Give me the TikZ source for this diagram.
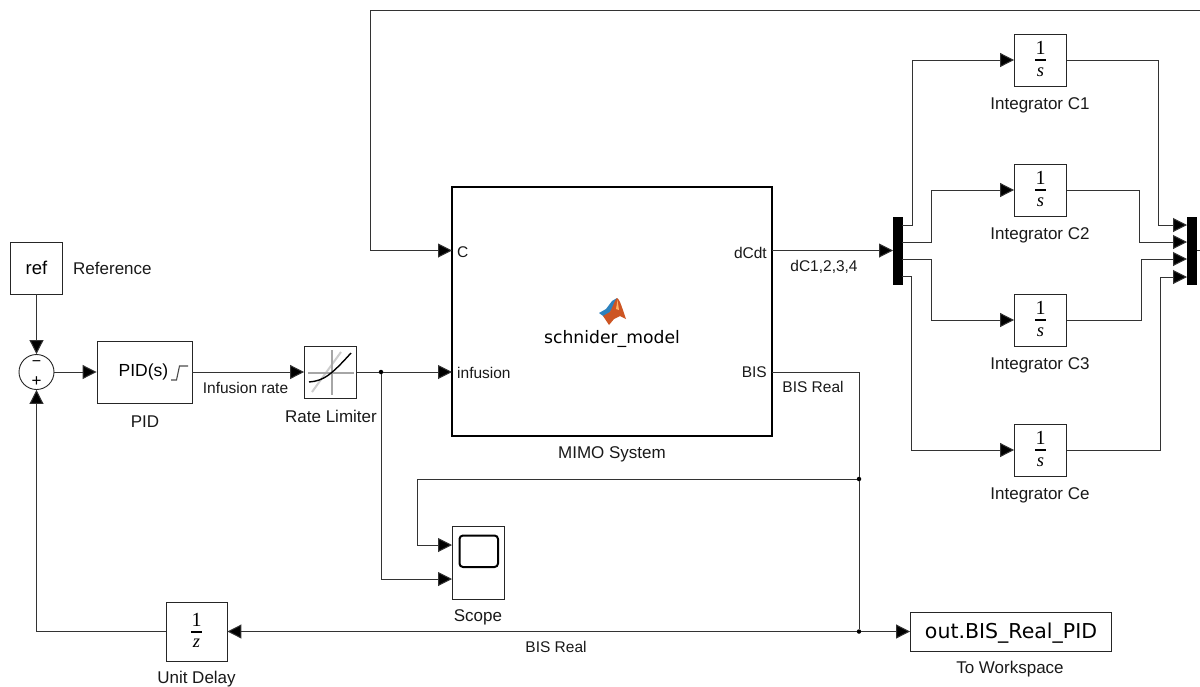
\documentclass[tikz,border=0pt]{standalone}
\usepackage{fontspec}
\setmainfont{Liberation Sans}
\newfontfamily\dejafont{DejaVu Sans}
\newfontfamily\tmsfont{Liberation Serif}
\usetikzlibrary{arrows.meta}
\definecolor{wirec}{gray}{0.2}
\definecolor{logoblue}{RGB}{45,130,190}
\definecolor{logoorange}{RGB}{205,85,35}
\newcommand{\fracicon}[3]{%
  \begin{scope}[shift={(#1.center)}]
    \node[fracbig] (#1n) at (0,-12) {1};
    \node[fracsmall] (#1d) at (0,#3) {\itshape #2};
    \fill (-5.5,-1) rectangle (5.5,1);
  \end{scope}}
\tikzset{
  x=1pt,y=-1pt,
  wire/.style={draw=wirec,line width=1pt},
  arrowed/.style={wire,-{Triangle[length=14pt,width=14pt,fill=black]}},
  blockbox/.style={draw=black!85,line width=0.9pt,fill=white,inner sep=0pt,minimum width=#1},
  blockbox/.default=52pt,
  lab/.style={font=\fontsize{17}{19}\selectfont,inner sep=0pt,text=black!90},
  sig/.style={font=\fontsize{15.5}{17}\selectfont,inner sep=0pt,text=black!90},
  fracbig/.style={font=\tmsfont\fontsize{20}{22}\selectfont,inner sep=0pt},
  fracsmall/.style={font=\tmsfont\fontsize{18.5}{20}\selectfont,inner sep=0pt},
  jdot/.style={circle,fill=black,inner sep=0pt,minimum size=4.5pt},
  bar/.style={fill=black,draw=black,inner sep=0pt,minimum width=9pt,minimum height=67pt},
}
\begin{document}
\begin{tikzpicture}
\useasboundingbox (0,0) rectangle (1200,686);
% blocks
\node[blockbox,minimum height=52pt,font=\fontsize{18.5}{20}\selectfont] (ref) at (36.5,268) {ref};
\node[draw=black!85,line width=0.9pt,circle,minimum size=35pt,inner sep=0pt] (sum) at (36.5,372) {};
\node[blockbox=95pt,minimum height=62pt] (pid) at (144.5,372) {};
\node[blockbox,minimum height=52pt] (rl) at (330.5,372) {};
\node[draw=black,line width=2pt,fill=white,minimum width=320pt,minimum height=249pt,inner sep=0pt] (mimo) at (612,311.5) {};
\node[blockbox,minimum height=52pt] (i1) at (1040.5,60) {};
\node[blockbox,minimum height=52pt] (i2) at (1040.5,190) {};
\node[blockbox,minimum height=52pt] (i3) at (1040.5,320) {};
\node[blockbox,minimum height=52pt] (i4) at (1040.5,450) {};
\node[blockbox,minimum height=73pt] (scope) at (478,562.5) {};
\node[blockbox=61pt,minimum height=59pt] (delay) at (196.5,631.5) {};
\node[blockbox=201pt,minimum height=39pt] (work) at (1011,631.5) {};
\node[bar] (demux) at (897.5,250.5) {};
\node[bar] (mux) at (1192,250.5) {};
% ports and free ends
\coordinate (mC) at (452,250.5);
\coordinate (mD) at (772,250.5);
\coordinate (mI) at (452,372);
\coordinate (mB) at (772,372);
\coordinate (dx) at (893,250.5);
\coordinate (mo) at (1197,250.5);
\coordinate (top) at (1200,10);
\coordinate (right) at (1200,250.5);
\coordinate (s1) at (452,545);
\coordinate (s2) at (452,579);
\coordinate (d1) at (902,225);
\coordinate (d2) at (902,242);
\coordinate (d3) at (902,259);
\coordinate (d4) at (902,276);
\coordinate (m1) at (1187,225);
\coordinate (m2) at (1187,242);
\coordinate (m3) at (1187,259);
\coordinate (m4) at (1187,277);
\node[jdot] (j1) at (381,372) {};
\node[jdot] (j2) at (859,479) {};
\node[jdot] (j3) at (859,631.5) {};
% connectors
\draw[arrowed] (ref.south) -- (sum.north);
\draw[arrowed] (sum.east) -- (pid.west);
\draw[arrowed] (pid.east) -- (rl.west);
\draw[wire] (rl.east) -- (j1);
\draw[arrowed] (j1) -- (mI);
\draw[arrowed] (j1) |- (s2);
\draw[arrowed] (top) -| (370.5,250.5) -- (mC);
\draw[arrowed] (mD) -- (dx);
\draw[wire] (mB) -| (j2);
\draw[wire] (j2) -- (j3);
\draw[arrowed] (j2) -| (417,545) -- (s1);
\draw[arrowed] (j3) -- (work.west);
\draw[arrowed] (j3) -- (delay.east);
\draw[arrowed] (delay.west) -| (sum.south);
\draw[arrowed] (d1) -| (912,60) -- (i1.west);
\draw[arrowed] (d2) -| (931,190) -- (i2.west);
\draw[arrowed] (d3) -| (931,320) -- (i3.west);
\draw[arrowed] (d4) -| (911,450) -- (i4.west);
\draw[arrowed] (i1.east) -| (1158,225) -- (m1);
\draw[arrowed] (i2.east) -| (1139,242) -- (m2);
\draw[arrowed] (i3.east) -| (1141,259) -- (m3);
\draw[arrowed] (i4.east) -| (1160,277) -- (m4);
\draw[wire] (mo) -- (right);
% block icons
\node[font=\fontsize{16}{18}\selectfont,inner sep=0pt] (summinus) at (36.5,364) {−};
\node[font=\fontsize{17}{18}\selectfont,inner sep=0pt] (sumplus) at (36.5,381.5) {+};
\node[font=\fontsize{17.5}{19}\selectfont,inner sep=0pt] (pidtxt) at (143.5,372) {PID(s)};
\draw[black!70,line width=1.1pt] (171,380) -- (176.5,380) -- (179.5,366) -- (188,366);
\draw[black!20,line width=2pt] (312,392) -- (341,352);
\draw[black!35,line width=1.2pt] (308,373) -- (354,373) (332,350) -- (332,395);
\draw[black,line width=1.4pt] (309,382) .. controls (324,381) and (332,374) .. (351,353);
\draw[black,line width=2pt,rounded corners=3.5pt,fill=white] (459.5,535.5) rectangle (498,567);
\fracicon{i1}{s}{12}
\fracicon{i2}{s}{12}
\fracicon{i3}{s}{12}
\fracicon{i4}{s}{12}
\fracicon{delay}{z}{12}
% MATLAB logo
\fill[logoblue] (599,313) -- (606,309) -- (612,301) -- (617,298) -- (613,308) -- (606,318) -- cycle;
\fill[logoorange] (617,298) .. controls (620,299) and (623,311) .. (626,319) -- (620,316) -- (614,319) -- (609,325) -- (603,316) -- (610,312) .. controls (613,306) and (615,300) .. (617,298) -- cycle;
\fill[orange!60!white] (617.5,300) -- (619,310) -- (616,309) -- cycle;
% labels
\node[font=\dejafont\fontsize{20.5}{22}\selectfont,inner sep=0pt] (wtxt) at (1011,633) {out.BIS\_Real\_PID};
\node[lab,anchor=west] (reflab) at (73,268.5) {Reference};
\node[lab] (pidlab) at (145,421.5) {PID};
\node[sig] (inflab) at (245.5,387.5) {Infusion rate};
\node[lab] (rllab) at (331,416) {Rate Limiter};
\node[sig,anchor=west] (pC) at (457,252.5) {C};
\node[sig,anchor=west] (pI) at (457,372.5) {infusion};
\node[sig,anchor=east] (pD) at (767,252.5) {dCdt};
\node[sig,anchor=east] (pB) at (767,372.5) {BIS};
\node[font=\dejafont\fontsize{17.2}{19}\selectfont,inner sep=0pt] (mname) at (612,338.5) {schnider\_model};
\node[lab] (mimolab) at (612,454.5) {MIMO System};
\node[sig] (dclab) at (824,266.5) {dC1,2,3,4};
\node[sig] (bislab) at (813,387) {BIS Real};
\node[lab] (i1lab) at (1040,105) {Integrator C1};
\node[lab] (i2lab) at (1040,235) {Integrator C2};
\node[lab] (i3lab) at (1040,365) {Integrator C3};
\node[lab] (i4lab) at (1040,495) {Integrator Ce};
\node[lab] (sclab) at (478,617) {Scope};
\node[sig] (bis2lab) at (556,647) {BIS Real};
\node[lab] (wlab) at (1010,669) {To Workspace};
\node[lab] (dlab) at (196.5,679) {Unit Delay};
\end{tikzpicture}
\end{document}
